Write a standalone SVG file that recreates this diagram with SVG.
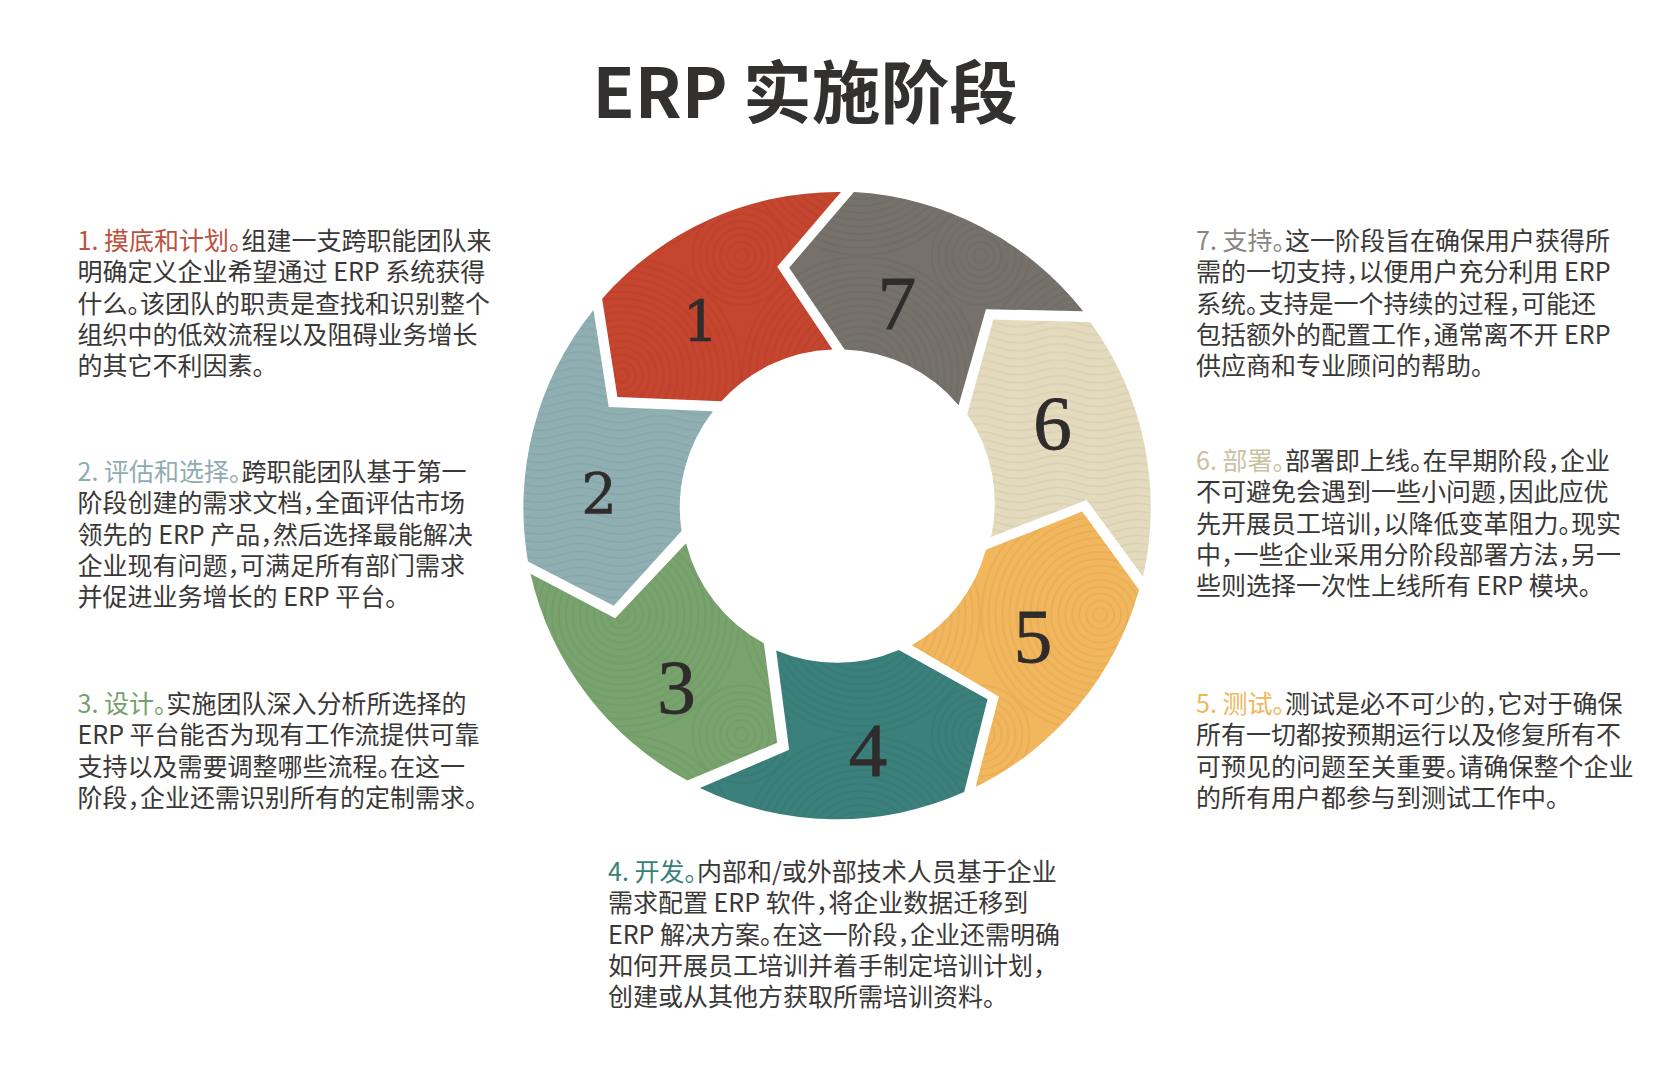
<svg xmlns="http://www.w3.org/2000/svg" width="1673" height="1077" viewBox="0 0 1673 1077">
<style>
text{font-family:"Noto Sans CJK SC","Noto Sans",sans-serif;font-feature-settings:"halt";}
.t{font-size:68.7px;font-weight:700;fill:#333130;}
.b{font-size:25px;fill:#3a3837;font-weight:400;}
.n{font-family:"Liberation Serif",serif;font-size:77px;fill:#2f2c2b;stroke:#2f2c2b;stroke-width:.8;text-anchor:middle;}
.m{font-family:"DejaVu Serif",serif;font-size:56px;fill:#2f2c2b;stroke:#2f2c2b;stroke-width:.6;text-anchor:middle;}
.arc{fill:url(#arc);}
.wav{fill:url(#wav);}
.c1{fill:#b9523f}.c2{fill:#8fadb0}.c3{fill:#76a06a}.c4{fill:#3a7f7a}.c5{fill:#efb65c}.c6{fill:#c9c2a3}.c7{fill:#8a8581}
</style>
<defs>
<g id="sm"><circle r="7"/><circle r="14"/><circle r="21"/><circle r="28"/><circle r="35"/><circle r="42"/><circle r="49"/></g>
<pattern id="arc" width="240" height="240" patternUnits="userSpaceOnUse" patternTransform="translate(22 16)">
<g fill="none" stroke="#000" stroke-opacity=".05" stroke-width="1.6">
<use href="#sm"/><use href="#sm" x="240"/><use href="#sm" y="240"/><use href="#sm" x="240" y="240"/>
<g transform="translate(120 120)"><use href="#sm"/><circle r="56"/><circle r="63"/><circle r="70"/><circle r="77"/><circle r="84"/><circle r="91"/><circle r="98"/><circle r="105"/><circle r="112"/><circle r="119"/></g>
</g>
</pattern>
<pattern id="wav" width="80" height="48" patternUnits="userSpaceOnUse">
<path fill="none" stroke="#000" stroke-opacity=".05" stroke-width="1.6" d="M0 4q20-7 40 0t40 0M0 12q20-7 40 0t40 0M0 20q20-7 40 0t40 0M0 28q20-7 40 0t40 0M0 36q20-7 40 0t40 0M0 44q20-7 40 0t40 0"/>
</pattern>
</defs>
<rect width="1673" height="1077" fill="#fff"/>
<text class="t" x="592.6" y="118">ERP 实施阶段</text>

<g transform="translate(524 192) scale(.9968) translate(-524 -192)">
<g id="seg-1"><path fill="#c5452f" d="M602.4 299A315 315 0 0 1 842 192L778 267L833.5 350A157 157 0 0 0 722 402L617.7 397.6Z"/><path class="arc" d="M602.4 299A315 315 0 0 1 842 192L778 267L833.5 350A157 157 0 0 0 722 402L617.7 397.6Z"/></g>
<g id="seg-2"><path fill="#8fafb3" d="M593.7 310.4L609 407.7L713.6 412A157 157 0 0 0 682 532L614 607L528 562.6A315 315 0 0 1 593.7 310.4Z"/><path class="wav" d="M593.7 310.4L609 407.7L713.6 412A157 157 0 0 0 682 532L614 607L528 562.6A315 315 0 0 1 593.7 310.4Z"/></g>
<g id="seg-3"><path fill="#78a36d" d="M530.5 575L615.5 619.7L686.6 544.4A157 157 0 0 0 764.6 644.6L778 744.5L688 782.5A315 315 0 0 1 530.5 575Z"/><path class="arc" d="M530.5 575L615.5 619.7L686.6 544.4A157 157 0 0 0 764.6 644.6L778 744.5L688 782.5A315 315 0 0 1 530.5 575Z"/></g>
<g id="seg-4"><path fill="#3b807b" d="M777 652A157 157 0 0 0 900 651.4L989 701L965.6 794A315 315 0 0 1 700.5 790L790 751.6Z"/><path class="arc" d="M777 652A157 157 0 0 0 900 651.4L989 701L965.6 794A315 315 0 0 1 700.5 790L790 751.6Z"/></g>
<g id="seg-5"><path fill="#f2b65c" d="M1084 512.6L1141 591A315 315 0 0 1 977 789L1000.4 698L913 646.7A157 157 0 0 0 987.4 551Z"/><path class="arc" d="M1084 512.6L1141 591A315 315 0 0 1 977 789L1000.4 698L913 646.7A157 157 0 0 0 987.4 551Z"/></g>
<g id="seg-6"><path fill="#e4dbbe" d="M994.8 320L1092 322.3A315 315 0 0 1 1145 578L1088.5 501L992.6 538A157 157 0 0 0 968.6 415Z"/><path class="wav" d="M994.8 320L1092 322.3A315 315 0 0 1 1145 578L1088.5 501L992.6 538A157 157 0 0 0 968.6 415Z"/></g>
<g id="seg-7"><path fill="#77716c" d="M855 192A315 315 0 0 1 1085 311.7L987.4 309.6L960 406A157 157 0 0 0 845.7 350L790 268Z"/><path class="arc" d="M855 192A315 315 0 0 1 1085 311.7L987.4 309.6L960 406A157 157 0 0 0 845.7 350L790 268Z"/></g>
</g>
<g id="digits">
<text class="m" x="700.5" y="341">1</text>
<text class="m" x="599" y="513">2</text>
<text class="n" x="676.5" y="713">3</text>
<text class="n" x="868" y="776">4</text>
<text class="n" x="1033" y="662">5</text>
<text class="n" x="1052.5" y="449">6</text>
<text class="n" x="897" y="329">7</text>
</g>

<g id="text-1"><text class="b" x="77.6" y="250"><tspan class="c1">1. 摸底和计划。</tspan>组建一支跨职能团队来</text>
<text class="b" x="77.6" y="281.3">明确定义企业希望通过 ERP 系统获得</text>
<text class="b" x="77.6" y="312.6">什么。该团队的职责是查找和识别整个</text>
<text class="b" x="77.6" y="343.9">组织中的低效流程以及阻碍业务增长</text>
<text class="b" x="77.6" y="375.2">的其它不利因素。</text></g>

<g id="text-2"><text class="b" x="77.6" y="481"><tspan class="c2">2. 评估和选择。</tspan>跨职能团队基于第一</text>
<text class="b" x="77.6" y="512.3">阶段创建的需求文档，全面评估市场</text>
<text class="b" x="77.6" y="543.6">领先的 ERP 产品，然后选择最能解决</text>
<text class="b" x="77.6" y="574.9">企业现有问题，可满足所有部门需求</text>
<text class="b" x="77.6" y="606.2">并促进业务增长的 ERP 平台。</text></g>

<g id="text-3"><text class="b" x="77.6" y="713"><tspan class="c3">3. 设计。</tspan>实施团队深入分析所选择的</text>
<text class="b" x="77.6" y="744.3">ERP 平台能否为现有工作流提供可靠</text>
<text class="b" x="77.6" y="775.6">支持以及需要调整哪些流程。在这一</text>
<text class="b" x="77.6" y="806.9">阶段，企业还需识别所有的定制需求。</text></g>

<g id="text-4"><text class="b" x="608" y="881"><tspan class="c4">4. 开发。</tspan>内部和/或外部技术人员基于企业</text>
<text class="b" x="608" y="912.3">需求配置 ERP 软件，将企业数据迁移到</text>
<text class="b" x="608" y="943.6">ERP 解决方案。在这一阶段，企业还需明确</text>
<text class="b" x="608" y="974.9">如何开展员工培训并着手制定培训计划，</text>
<text class="b" x="608" y="1006.2">创建或从其他方获取所需培训资料。</text></g>

<g id="text-5"><text class="b" x="1196" y="713"><tspan class="c5">5. 测试。</tspan>测试是必不可少的，它对于确保</text>
<text class="b" x="1196" y="744.3">所有一切都按预期运行以及修复所有不</text>
<text class="b" x="1196" y="775.6">可预见的问题至关重要。请确保整个企业</text>
<text class="b" x="1196" y="806.9">的所有用户都参与到测试工作中。</text></g>

<g id="text-6"><text class="b" x="1196" y="470"><tspan class="c6">6. 部署。</tspan>部署即上线。在早期阶段，企业</text>
<text class="b" x="1196" y="501.3">不可避免会遇到一些小问题，因此应优</text>
<text class="b" x="1196" y="532.6">先开展员工培训，以降低变革阻力。现实</text>
<text class="b" x="1196" y="563.9">中，一些企业采用分阶段部署方法，另一</text>
<text class="b" x="1196" y="595.2">些则选择一次性上线所有 ERP 模块。</text></g>

<g id="text-7"><text class="b" x="1196" y="250"><tspan class="c7">7. 支持。</tspan>这一阶段旨在确保用户获得所</text>
<text class="b" x="1196" y="281.3">需的一切支持，以便用户充分利用 ERP</text>
<text class="b" x="1196" y="312.6">系统。支持是一个持续的过程，可能还</text>
<text class="b" x="1196" y="343.9">包括额外的配置工作，通常离不开 ERP</text>
<text class="b" x="1196" y="375.2">供应商和专业顾问的帮助。</text></g>
</svg>
